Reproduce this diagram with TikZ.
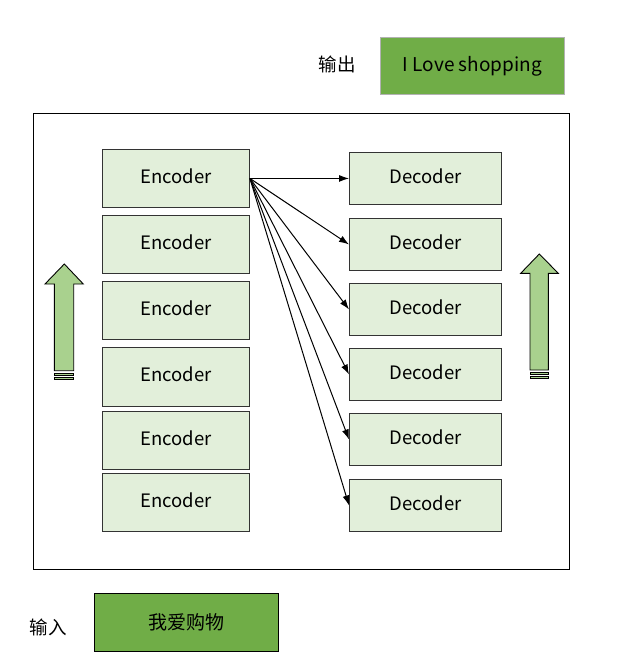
\documentclass[tikz,border=0pt]{standalone}
\usepackage{fontspec}
\setmainfont{Noto Sans CJK SC}
\usetikzlibrary{arrows.meta}
\definecolor{boxfill}{HTML}{E2EFDA}
\definecolor{darkgreen}{HTML}{70AD47}
\definecolor{arrowgreen}{HTML}{A9D18E}
\tikzset{
  blk/.style={draw=black!80, line width=0.9pt, fill=boxfill, anchor=north west, inner sep=0pt, text height=12pt, text depth=2pt, font=\fontsize{18.5}{22}\selectfont},
  enc/.style={blk, minimum width=147pt, minimum height=58pt},
  dec/.style={blk, minimum width=152pt, minimum height=52pt},
  iobox/.style={fill=darkgreen, anchor=north west, inner sep=0pt, minimum width=184pt, font=\fontsize{19}{22}\selectfont},
  lbl/.style={font=\fontsize{18.5}{22}\selectfont, inner sep=0pt},
  conn/.style={-{Latex[length=10pt,width=7pt]}, line width=1pt},
  bigarrow/.style={draw=black, line width=0.9pt, fill=arrowgreen},
}
\begin{document}
\begin{tikzpicture}[x=1pt,y=-1pt]
\useasboundingbox (0,0) rectangle (626,664);
% frame
\draw[line width=0.9pt] (33,113) rectangle (569,569);
% output
\node[lbl] (outlbl) at (337,64) {输出};
\node[iobox, draw=black!30, line width=0.8pt, minimum height=57pt] (out) at (380,37) {I Love shopping};
% input
\node[lbl] (inlbl) at (48,627) {输入};
\node[iobox, draw=black, line width=0.9pt, minimum height=58pt] (in) at (94,593) {我爱购物};
% encoders
\node[enc] (e1) at (102,149) {Encoder};
\node[enc] (e2) at (102,215) {Encoder};
\node[enc] (e3) at (102,281) {Encoder};
\node[enc, minimum height=59pt] (e4) at (102,347) {Encoder};
\node[enc] (e5) at (102,411) {Encoder};
\node[enc] (e6) at (102,473) {Encoder};
% decoders
\node[dec] (d1) at (349,152) {Decoder};
\node[dec] (d2) at (349,218) {Decoder};
\node[dec] (d3) at (349,283) {Decoder};
\node[dec] (d4) at (349,348) {Decoder};
\node[dec] (d5) at (349,413) {Decoder};
\node[dec] (d6) at (349,479) {Decoder};
% connectors
\foreach \d in {d1,d2,d3,d4,d5,d6}{
  \draw[conn] (e1.east) -- (\d.west);
}
% left striped arrow
\draw[bigarrow] (64.3,264) -- (83.3,284) -- (73.7,284) -- (73.7,370.7) -- (54.3,370.7) -- (54.3,284) -- (45,284) -- cycle;
\draw[bigarrow, line width=0.7pt] (54.3,373.3) rectangle (73.7,375.7);
\draw[bigarrow, line width=0.7pt] (54.3,376.9) rectangle (73.7,379.2);
% right striped arrow
\draw[bigarrow] (539.3,254) -- (558.3,273.3) -- (548.3,273.3) -- (548.3,370) -- (530,370) -- (530,273.3) -- (520.7,273.3) -- cycle;
\draw[bigarrow, line width=0.7pt] (530,372.7) rectangle (548.3,374.6);
\draw[bigarrow, line width=0.7pt] (530,375.9) rectangle (548.3,377.9);
\end{tikzpicture}
\end{document}
